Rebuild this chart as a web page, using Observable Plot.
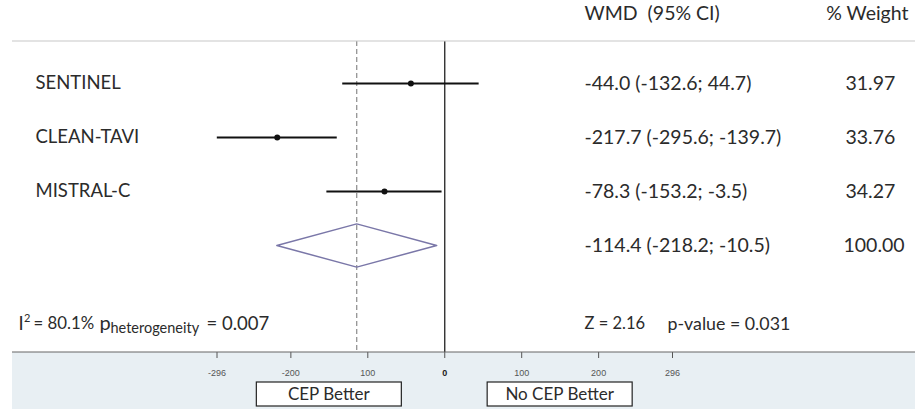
<!DOCTYPE html>
<html>
<head>
<meta charset="utf-8">
<script src="https://cdn.jsdelivr.net/npm/d3@7"></script>
<script src="https://cdn.jsdelivr.net/npm/@observablehq/plot@0.6"></script>
<style>
  html, body { margin: 0; padding: 0; background: #fff; }
  #chart { width: 915px; height: 409px; }
</style>
</head>
<body>
<div id="chart"></div>
<script>
// ---- data ----
const studies = ["SENTINEL", "CLEAN-TAVI", "MISTRAL-C"];
const wmd = [-44.0, -217.7, -78.3];
const lower = [-132.6, -295.6, -153.2];
const upper = [44.7, -139.7, -3.5];
const ciLabels = ["-44.0 (-132.6; 44.7)", "-217.7 (-295.6; -139.7)", "-78.3 (-153.2; -3.5)"];
const weights = ["31.97", "33.76", "34.27"];
const pooledWmd = -114.4;
const pooledLower = -218.2;
const pooledUpper = -10.5;
const pooledLabel = "-114.4 (-218.2; -10.5)";
const pooledWeight = "100.00";
const tickValues = [-296, -200, -100, 0, 100, 200, 296];
const tickLabels = ["-296", "-200", "100", "0", "100", "200", "296"];
const headers = ["WMD  (95% CI)", "% Weight"];
const heterogeneity = ["I", "2", "= 80.1%", "p", "heterogeneity", "= 0.007"];
const overallTest = ["Z = 2.16", "p-value = 0.031"];
const sideLabels = ["CEP Better", "No CEP Better"];

// ---- tables built from the arrays ----
const rows = studies.map((s, i) => ({name: s, i, wmd: wmd[i], lower: lower[i], upper: upper[i], ci: ciLabels[i], w: weights[i]}));
const pooledRow = studies.length;
const half = 0.4; // diamond half-height in row units
const diamond = [
  {x: pooledLower, y: pooledRow},
  {x: pooledWmd, y: pooledRow - half},
  {x: pooledUpper, y: pooledRow},
  {x: pooledWmd, y: pooledRow + half},
  {x: pooledLower, y: pooledRow}
];

const FONT = "Lato, 'Open Sans', sans-serif";
const FS = 19.5;
const TXT = "#2b2b2b";
const headerY = -1.3, statsY = 4.45;
const common = {fill: TXT, fontFamily: FONT, textAnchor: "start", frameAnchor: "left"};

const plot = Plot.plot({
  width: 915,
  height: 409,
  marginTop: 41,
  marginBottom: 57,
  marginLeft: 12,
  marginRight: 0,
  style: {fontFamily: FONT, fontSize: "9px", background: "transparent", overflow: "visible"},
  x: {
    domain: [-296, 296],
    range: [216.5, 672],
    ticks: tickValues,
    tickFormat: d => tickLabels[tickValues.indexOf(d)],
    tickSize: 6,
    tickPadding: 11,
    label: null
  },
  y: {domain: [0, 3], range: [83, 245], axis: null},
  marks: [
    Plot.ruleX([pooledWmd], {stroke: "#8a8a8a", strokeWidth: 1.2, strokeDasharray: "5,3"}),
    Plot.ruleX([0], {stroke: "#222", strokeWidth: 1.3}),
    Plot.ruleY(rows, {x1: "lower", x2: "upper", y: "i", stroke: "#111", strokeWidth: 2}),
    Plot.dot(rows, {x: "wmd", y: "i", r: 3, fill: "#111", stroke: "none"}),
    Plot.line(diamond, {x: "x", y: "y", stroke: "#7a77a8", strokeWidth: 1.5}),
    // study names
    Plot.text(rows, {...common, y: "i", text: "name", dx: 23, fontSize: 18.5}),
    // CI column
    Plot.text(rows, {...common, y: "i", text: "ci", dx: 572, fontSize: FS}),
    Plot.text([pooledLabel], {...common, y: pooledRow, text: d => d, dx: 572, fontSize: FS}),
    // weight column
    Plot.text(rows, {...common, y: "i", text: "w", dx: 833, fontSize: FS}),
    Plot.text([pooledWeight], {...common, y: pooledRow, text: d => d, dx: 831, fontSize: FS}),
    // headers
    Plot.text([headers[0]], {...common, y: headerY, text: d => d, dx: 572, fontSize: FS}),
    Plot.text([headers[1]], {...common, y: headerY, text: d => d, frameAnchor: "right", textAnchor: "end", dx: -7, fontSize: FS}),
    // heterogeneity stats: I^2 = 80.1%   p_heterogeneity = 0.007
    Plot.text([heterogeneity[0]], {...common, y: statsY, text: d => d, dx: 6, fontSize: 18.5}),
    Plot.text([heterogeneity[1]], {...common, y: statsY, text: d => d, dx: 11.5, dy: -5, fontSize: 11}),
    Plot.text([heterogeneity[2]], {...common, y: statsY, text: d => d, dx: 21, fontSize: 16.8}),
    Plot.text([heterogeneity[3]], {...common, y: statsY, text: d => d, dx: 87, fontSize: 20}),
    Plot.text([heterogeneity[4]], {...common, y: statsY, text: d => d, dx: 98, dy: 5, fontSize: 14.5}),
    Plot.text([heterogeneity[5]], {...common, y: statsY, text: d => d, dx: 194, fontSize: 18.5}),
    // overall test
    Plot.text([overallTest[0]], {...common, y: statsY, text: d => d, dx: 572, fontSize: 16.5}),
    Plot.text([overallTest[1]], {...common, y: statsY, text: d => d, dx: 655, fontSize: 17.8})
  ]
});

document.getElementById("chart").appendChild(plot);

// ---- decoration through the plot's own scales ----
const svg = d3.select(plot.tagName.toLowerCase() === "svg" ? plot : plot.querySelector("svg"));
const W = 915, H = 409, mL = 12, axisY = H - 57, topY = 41;
// bottom panel background
svg.insert("rect", ":first-child")
  .attr("x", mL).attr("y", axisY).attr("width", W - mL).attr("height", H - axisY)
  .attr("fill", "#e8eff3");
// header separator line
svg.append("line").attr("x1", mL).attr("x2", W).attr("y1", topY).attr("y2", topY)
  .attr("stroke", "#c8c8c8").attr("stroke-width", 1.2);
// axis baseline
svg.append("line").attr("x1", mL).attr("x2", W).attr("y1", axisY).attr("y2", axisY)
  .attr("stroke", "#666").attr("stroke-width", 1.2);

// axis styling
svg.selectAll("g[aria-label^='x-axis'] text").attr("fill", "#555").style("font-family", "'Liberation Sans', Arial, sans-serif").style("font-size", "9px");
svg.selectAll("g[aria-label^='x-axis'] text").filter(function() { return this.textContent === "0"; }).attr("font-weight", "bold").attr("fill", "#222");
svg.selectAll("g[aria-label^='x-axis'] path, g[aria-label^='x-axis'] line").attr("stroke", "#555");

// side label boxes
const xs = plot.scale("x");
const boxCenters = [-150, 150];
const boxW = 145, boxH = 24, boxY = 382;
sideLabels.forEach((lab, k) => {
  const cx = xs.apply(boxCenters[k]);
  svg.append("rect").attr("x", cx - boxW / 2).attr("y", boxY).attr("width", boxW).attr("height", boxH)
    .attr("fill", "#fff").attr("stroke", "#222").attr("stroke-width", 1.2);
  svg.append("text").attr("x", cx).attr("y", boxY + boxH / 2).attr("dy", "0.35em")
    .attr("text-anchor", "middle").attr("font-family", FONT).attr("font-size", 17).attr("fill", TXT)
    .text(lab);
});
</script>
</body>
</html>
